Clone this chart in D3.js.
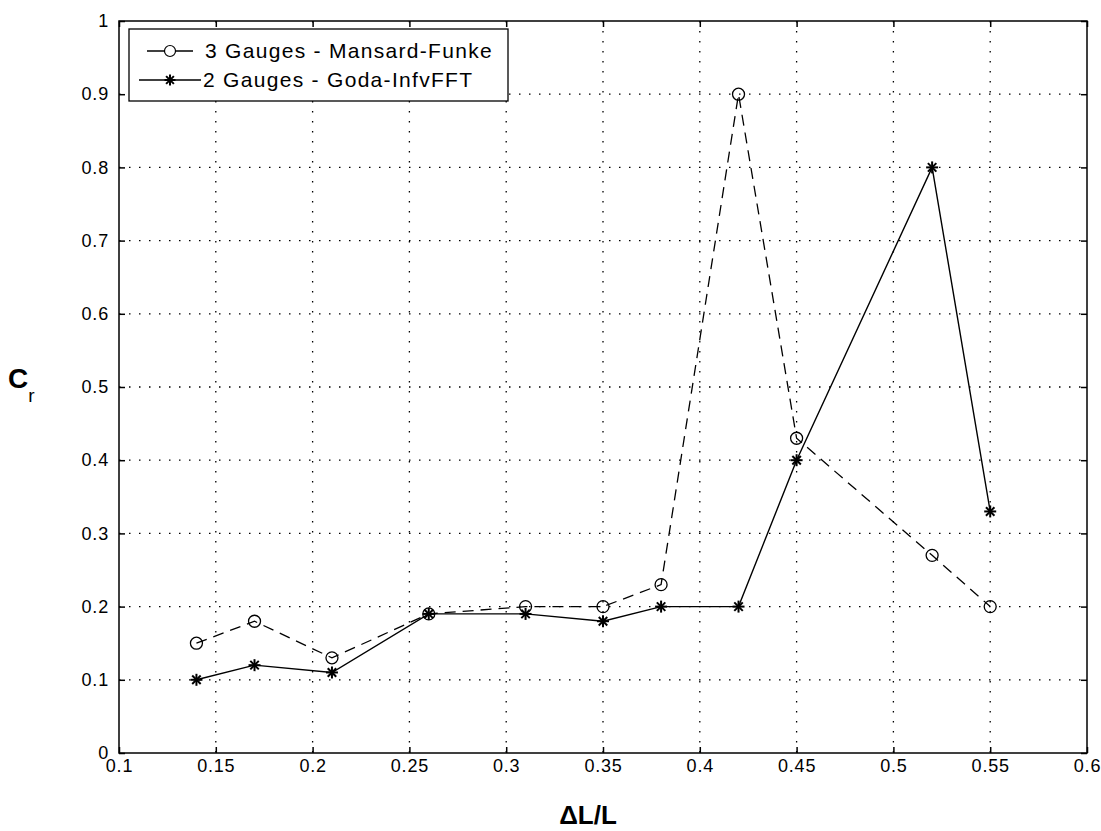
<!DOCTYPE html>
<html>
<head>
<meta charset="utf-8">
<script src="https://cdn.jsdelivr.net/npm/d3@7"></script>
<style>
  body { margin: 0; background: #fff; }
  svg text { font-family: "Liberation Sans", Arial, sans-serif; fill: #000; }
</style>
</head>
<body>
<div id="chart"></div>
<script>
// Reflection coefficient vs gauge spacing
const ratio = [0.14, 0.17, 0.21, 0.26, 0.31, 0.35, 0.38, 0.42, 0.45, 0.52, 0.55];
const mansardFunke = [0.15, 0.18, 0.13, 0.19, 0.2, 0.2, 0.23, 0.9, 0.43, 0.27, 0.2];
const godaInfvFFT = [0.1, 0.12, 0.11, 0.19, 0.19, 0.18, 0.2, 0.2, 0.4, 0.8, 0.33];
const xTicks = [0.1, 0.15, 0.2, 0.25, 0.3, 0.35, 0.4, 0.45, 0.5, 0.55, 0.6];
const yTicks = [0, 0.1, 0.2, 0.3, 0.4, 0.5, 0.6, 0.7, 0.8, 0.9, 1];
const seriesNames = ["3 Gauges - Mansard-Funke", "2 Gauges - Goda-InfvFFT"];

const width = 1101;
const height = 831;
const margin = { top: 21, right: 14, bottom: 78, left: 119 };
const innerW = width - margin.left - margin.right;
const innerH = height - margin.top - margin.bottom;

const svg = d3.select("#chart")
  .append("svg")
  .attr("width", width)
  .attr("height", height);

const g = svg.append("g")
  .attr("transform", `translate(${margin.left},${margin.top})`);

const x = d3.scaleLinear().domain([0.1, 0.6]).range([0, innerW]);
const y = d3.scaleLinear().domain([0, 1]).range([innerH, 0]);

// dotted grid
g.append("g")
  .selectAll("line")
  .data(xTicks.slice(1, -1))
  .join("line")
  .attr("x1", (d) => x(d)).attr("x2", (d) => x(d))
  .attr("y1", 0).attr("y2", innerH)
  .attr("stroke", "#000")
  .attr("stroke-width", 1.3)
  .attr("stroke-dasharray", "1.5,8.5");

g.append("g")
  .selectAll("line")
  .data(yTicks.slice(1, -1))
  .join("line")
  .attr("x1", 0).attr("x2", innerW)
  .attr("y1", (d) => y(d)).attr("y2", (d) => y(d))
  .attr("stroke", "#000")
  .attr("stroke-width", 1.3)
  .attr("stroke-dasharray", "1.5,8.5");

// axes with inward ticks, box all round
const fmt = (d) => String(d);
const styleAxis = (sel) => {
  sel.select(".domain").remove();
  sel.selectAll(".tick line").attr("stroke", "#000").attr("stroke-width", 1.5);
  sel.selectAll(".tick text")
    .attr("font-size", 18)
    .attr("letter-spacing", 0.8)
    .attr("fill", "#000");
};

g.append("g")
  .attr("transform", `translate(0,${innerH})`)
  .call(d3.axisBottom(x).tickValues(xTicks).tickFormat(fmt).tickSize(-6).tickPadding(6))
  .call(styleAxis);

g.append("g")
  .call(d3.axisTop(x).tickValues(xTicks).tickFormat("").tickSize(-6))
  .call(styleAxis);

g.append("g")
  .call(d3.axisLeft(y).tickValues(yTicks).tickFormat(fmt).tickSize(-6).tickPadding(10))
  .call(styleAxis);

g.append("g")
  .attr("transform", `translate(${innerW},0)`)
  .call(d3.axisRight(y).tickValues(yTicks).tickFormat("").tickSize(-6))
  .call(styleAxis);

g.append("rect")
  .attr("width", innerW)
  .attr("height", innerH)
  .attr("fill", "none")
  .attr("stroke", "#000")
  .attr("stroke-width", 1.5);

// series
const line = d3.line().x((d) => x(d[0])).y((d) => y(d[1]));
const dataA = ratio.map((r, i) => [r, mansardFunke[i]]);
const dataB = ratio.map((r, i) => [r, godaInfvFFT[i]]);

g.append("path")
  .datum(dataA)
  .attr("d", line)
  .attr("fill", "none")
  .attr("stroke", "#000")
  .attr("stroke-width", 1.3)
  .attr("stroke-dasharray", "11,7");

g.append("path")
  .datum(dataB)
  .attr("d", line)
  .attr("fill", "none")
  .attr("stroke", "#000")
  .attr("stroke-width", 1.4);

const star = (sel, cx, cy, r) => {
  const s = sel.append("g").attr("transform", `translate(${cx},${cy})`);
  [0, 45, 90, 135].forEach((a) => {
    const rad = (a * Math.PI) / 180;
    s.append("line")
      .attr("x1", -r * Math.cos(rad)).attr("y1", -r * Math.sin(rad))
      .attr("x2", r * Math.cos(rad)).attr("y2", r * Math.sin(rad))
      .attr("stroke", "#000").attr("stroke-width", 2);
  });
};

g.append("g")
  .selectAll("circle")
  .data(dataA)
  .join("circle")
  .attr("cx", (d) => x(d[0]))
  .attr("cy", (d) => y(d[1]))
  .attr("r", 6)
  .attr("fill", "none")
  .attr("stroke", "#000")
  .attr("stroke-width", 1.3);

const starLayer = g.append("g");
dataB.forEach((d) => star(starLayer, x(d[0]), y(d[1]), 6));

// legend
const legend = svg.append("g").attr("transform", "translate(129,29)");
legend.append("rect")
  .attr("width", 379)
  .attr("height", 72)
  .attr("fill", "#fff")
  .attr("stroke", "#000")
  .attr("stroke-width", 1.3);

legend.append("line")
  .attr("x1", 18).attr("x2", 64).attr("y1", 22).attr("y2", 22)
  .attr("stroke", "#000").attr("stroke-width", 1.3);
legend.append("circle")
  .attr("cx", 41).attr("cy", 22).attr("r", 5.5)
  .attr("fill", "#fff").attr("stroke", "#000").attr("stroke-width", 1.2);
legend.append("line")
  .attr("x1", 10).attr("x2", 72).attr("y1", 51).attr("y2", 51)
  .attr("stroke", "#000").attr("stroke-width", 1.3);
star(legend, 41, 51, 5.5);

legend.selectAll("text.label")
  .data(seriesNames)
  .join("text")
  .attr("class", "label")
  .attr("x", (d, i) => (i === 0 ? 76 : 74))
  .attr("y", (d, i) => 29 + i * 29)
  .attr("font-size", 21)
  .attr("letter-spacing", 1.3)
  .text((d) => d);

// axis titles
const yTitle = svg.append("text")
  .attr("x", 8)
  .attr("y", 388)
  .attr("font-size", 28)
  .attr("font-weight", "bold");
yTitle.append("tspan").text("C");
yTitle.append("tspan").attr("font-size", 19).attr("font-weight", "normal").attr("dy", 14).text("r");

svg.append("text")
  .attr("x", 588)
  .attr("y", 824)
  .attr("text-anchor", "middle")
  .attr("font-size", 26)
  .attr("font-weight", "bold")
  .text("ΔL/L");
</script>
</body>
</html>
